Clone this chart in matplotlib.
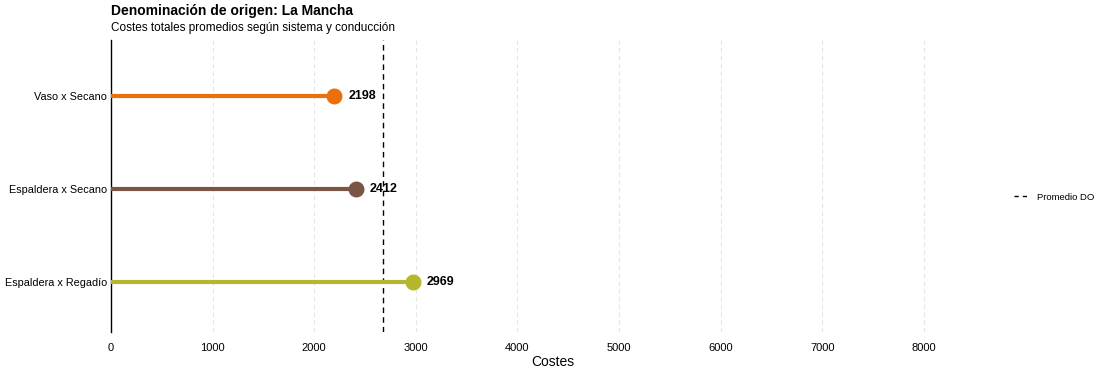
import matplotlib
matplotlib.use("Agg")
import matplotlib.pyplot as plt
from matplotlib.lines import Line2D

categorias = ["Espaldera x Regadío", "Espaldera x Secano", "Vaso x Secano"]
costes = [2969, 2412, 2198]
colores = ["#B3B82B", "#7A5546", "#EB700C"]
promedio_do = 2677
ticks_x = [0, 1000, 2000, 3000, 4000, 5000, 6000, 7000, 8000]

plt.rcParams["font.family"] = ["Liberation Sans", "DejaVu Sans"]

fig = plt.figure(figsize=(11, 3.74), dpi=100)
ax = fig.add_axes([111 / 1100, 1 - 332 / 374, (995 - 111) / 1100, (332 - 40) / 374])

ypos = list(range(len(categorias)))
for y, v, c in zip(ypos, costes, colores):
    ax.hlines(y, 0, v, color=c, linewidth=3, zorder=3)
    ax.scatter([v], [y], s=110, color=c, zorder=4)
    ax.annotate(f"{v}", (v, y), xytext=(10, 0), textcoords="offset points",
                ha="left", va="center", fontsize=9, fontweight="bold")

ax.axvline(promedio_do, color="black", linestyle=(0, (4, 3)), linewidth=1, zorder=2)

ax.set_xlim(0, 8700)
ax.set_ylim(-0.54, 2.6)
ax.set_xticks(ticks_x)
ax.set_yticks(ypos)
ax.set_yticklabels(categorias)
ax.tick_params(axis="y", length=0, labelsize=7.8, pad=3)
ax.tick_params(axis="x", length=0, labelsize=8, pad=8)
ax.grid(axis="x", color="#E5E5E5", linestyle=(0, (4, 3)), linewidth=0.8)
ax.set_axisbelow(True)
for s in ["top", "right", "bottom"]:
    ax.spines[s].set_visible(False)
ax.spines["left"].set_color("black")
ax.spines["left"].set_linewidth(1)
ax.set_xlabel("Costes", fontsize=10, labelpad=1)

handle = Line2D([0], [0], color="black", linestyle=(0, (3, 3)), linewidth=1)
fig.legend([handle], ["Promedio DO"], loc="center left",
           bbox_to_anchor=(1005 / 1100, 1 - 197 / 374), frameon=False,
           fontsize=6.8, handlelength=1.6, handletextpad=0.9)

fig.text(111 / 1100, 1 - 11 / 374, "Denominación de origen: La Mancha",
         fontsize=10, fontweight="bold", va="center", ha="left")
fig.text(111 / 1100, 1 - 28 / 374, "Costes totales promedios según sistema y conducción",
         fontsize=8.5, va="center", ha="left")

fig.savefig("out.png", dpi=100)
